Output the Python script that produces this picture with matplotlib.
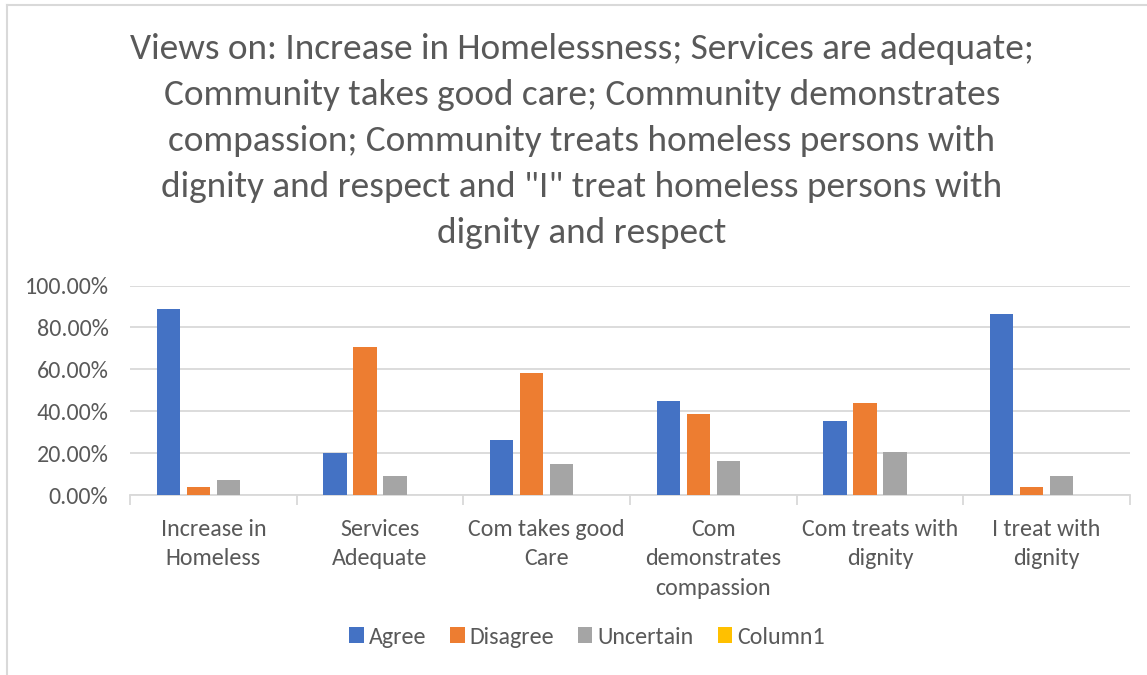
import matplotlib
matplotlib.use("Agg")
import matplotlib.pyplot as plt
import numpy as np
from matplotlib.lines import Line2D
from matplotlib.patches import Patch
from matplotlib.ticker import FuncFormatter


categories = [
    "Increase in\nHomeless",
    "Services\nAdequate",
    "Com takes good\nCare",
    "Com\ndemonstrates\ncompassion",
    "Com treats with\ndignity",
    "I treat with\ndignity",
]
series_names = ["Agree", "Disagree", "Uncertain", "Column1"]
agree = [0.887, 0.199, 0.263, 0.448, 0.352, 0.866]
disagree = [0.037, 0.707, 0.583, 0.386, 0.438, 0.037]
uncertain = [0.072, 0.091, 0.148, 0.164, 0.207, 0.092]
column1 = [0.0, 0.0, 0.0, 0.0, 0.0, 0.0]

TITLE = ('Views on: Increase in Homelessness; Services are adequate;\n'
         'Community takes good care; Community demonstrates\n'
         'compassion; Community treats homeless persons with\n'
         'dignity and respect and "I" treat homeless persons with\n'
         'dignity and respect')

COLORS = ["#4472C4", "#ED7D31", "#A5A5A5", "#FFC000"]
TEXT = "#595959"
GRID = "#D9D9D9"

plt.rcParams["font.family"] = ["Carlito", "Lato", "DejaVu Sans"]

W, H = 1147, 675
fig = plt.figure(figsize=(W / 100, H / 100), dpi=100)
ax = fig.add_axes([130 / W, 1 - 495 / H, 1000 / W, 209.5 / H])

x = np.arange(len(categories))
step = 0.18
width = 0.14
all_series = [agree, disagree, uncertain, column1]
for i, (vals, name, col) in enumerate(zip(all_series, series_names, COLORS)):
    ax.bar(x + (i - 1.5) * step, vals, width=width, color=col, label=name, zorder=3)

ax.set_xlim(-0.5, len(categories) - 0.5)
ax.set_ylim(0, 1.0)
ax.set_yticks(np.arange(0, 1.01, 0.2))
ax.yaxis.set_major_formatter(FuncFormatter(lambda v, _: f"{v * 100:.2f}%"))
ax.grid(axis="y", color=GRID, linewidth=1.3, zorder=0)

ax.set_xticks(x)
ax.set_xticklabels(categories, linespacing=1.5)
ax.set_xticks(np.arange(-0.5, len(categories)), minor=True)
ax.tick_params(axis="x", which="major", length=0, pad=17, labelsize=17.3, colors=TEXT)
ax.tick_params(axis="x", which="minor", length=7, width=1.3, color=GRID)
ax.tick_params(axis="y", length=0, pad=15.5, labelsize=17.3, colors=TEXT)

for side in ["top", "right", "left"]:
    ax.spines[side].set_visible(False)
ax.spines["bottom"].set_color(GRID)
ax.spines["bottom"].set_linewidth(1.3)

fig.text(582 / W, 1 - 33 / H, TITLE, ha="center", va="top", fontsize=26.8,
         color=TEXT, linespacing=1.535)

handles = [Patch(facecolor=c, edgecolor="none") for c in COLORS]
fig.legend(handles, series_names, loc="center", bbox_to_anchor=(587 / W, 1 - 637 / H),
           ncol=4, frameon=False, fontsize=17.3, labelcolor=TEXT,
           handlelength=0.6, handleheight=0.6, handletextpad=0.2, columnspacing=1.0)

# chart area border
fig.add_artist(Line2D([6.5 / W, 6.5 / W], [0, 1 - 4.5 / H], color=GRID, linewidth=1.5))
fig.add_artist(Line2D([6.5 / W, 1], [1 - 4.5 / H, 1 - 4.5 / H], color=GRID, linewidth=1.5))

fig.savefig("out.png", dpi=100)
